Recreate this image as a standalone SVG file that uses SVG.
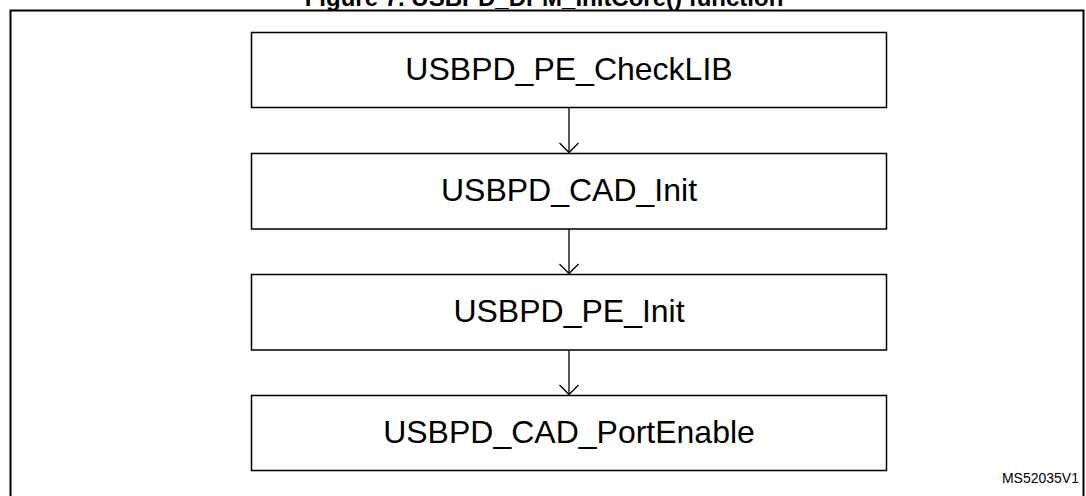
<svg xmlns="http://www.w3.org/2000/svg" width="1086" height="496" viewBox="0 0 1086 496">
  <defs>
    <style>
      .box { fill: #ffffff; stroke: #000000; stroke-width: 1.5; }
      .lbl { font-family: "Liberation Sans", Arial, sans-serif; font-size: 32px; fill: #000000; text-anchor: middle; }
      .conn { stroke: #000000; stroke-width: 1.3; fill: none; }
    </style>
  </defs>
  <rect x="0" y="0" width="1086" height="496" fill="#ffffff"/>
  <text x="544" y="5.5" font-family="'Liberation Sans', Arial, sans-serif" font-size="24" font-weight="bold" text-anchor="middle" fill="#000000">Figure 7. USBPD_DPM_InitCore() function</text>
  <rect id="frame" x="10.5" y="10.5" width="1073" height="495" fill="none" stroke="#000000" stroke-width="2"/>
  <g id="connectors">
    <path class="conn" d="M569,108 V152.5"/>
    <path class="conn" d="M559.5,143 L569,152.5 L578.5,143"/>
    <path class="conn" d="M569,229 V273.5"/>
    <path class="conn" d="M559.5,264 L569,273.5 L578.5,264"/>
    <path class="conn" d="M569,350 V394.5"/>
    <path class="conn" d="M559.5,385 L569,394.5 L578.5,385"/>
  </g>
  <g id="node1">
    <rect class="box" x="251.5" y="32.5" width="635" height="75"/>
    <text class="lbl" x="569" y="79.5">USBPD_PE_CheckLIB</text>
  </g>
  <g id="node2">
    <rect class="box" x="251.5" y="153.5" width="635" height="75.5"/>
    <text class="lbl" x="569" y="200.5">USBPD_CAD_Init</text>
  </g>
  <g id="node3">
    <rect class="box" x="251.5" y="274.5" width="635" height="75.5"/>
    <text class="lbl" x="569" y="321.5">USBPD_PE_Init</text>
  </g>
  <g id="node4">
    <rect class="box" x="251.5" y="395.5" width="635" height="75"/>
    <text class="lbl" x="569" y="442.5">USBPD_CAD_PortEnable</text>
  </g>
  <text x="1079" y="483" font-family="'Liberation Sans', Arial, sans-serif" font-size="14" text-anchor="end" fill="#000000">MS52035V1</text>
</svg>
